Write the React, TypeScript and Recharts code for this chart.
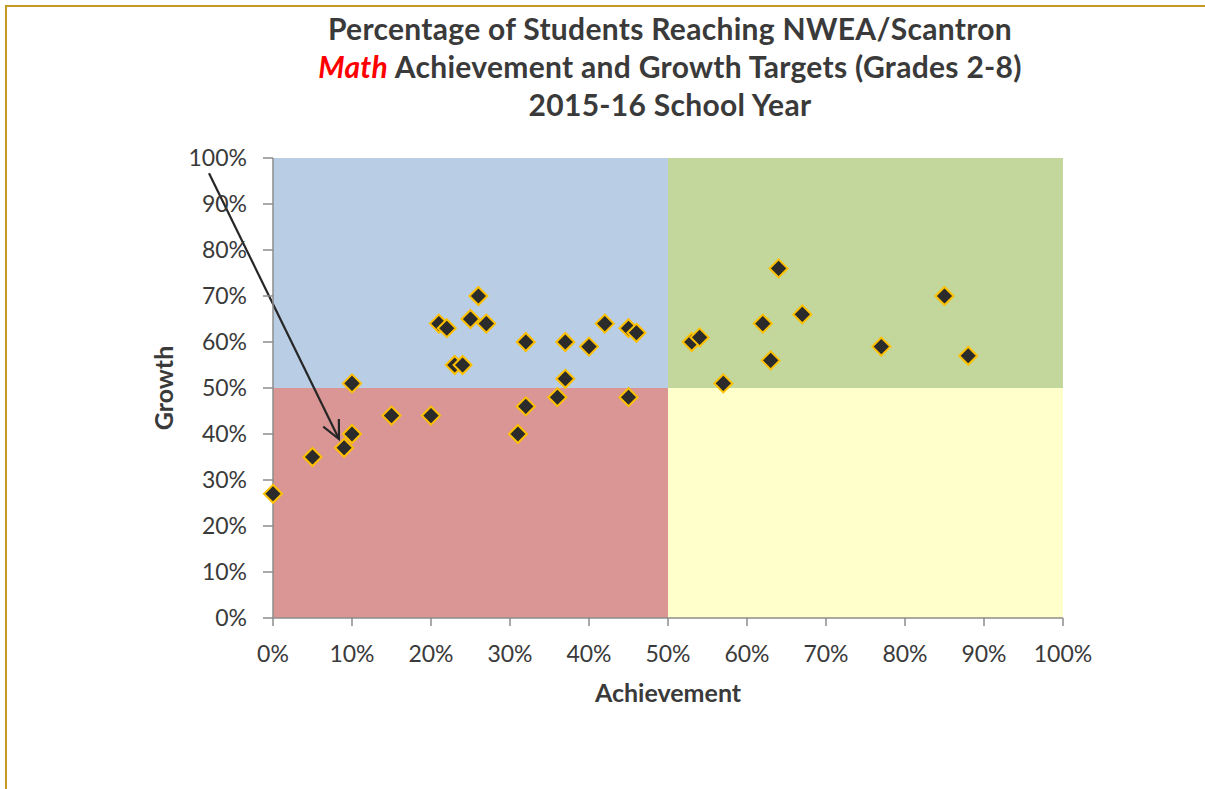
import React from 'react';
import { ScatterChart, Scatter, XAxis, YAxis, ReferenceArea, ReferenceLine } from 'recharts';

// one point per school: % reaching achievement target, % reaching growth target
const achievement = [0, 5, 9, 10, 10, 15, 20, 21, 22, 23, 24, 25, 26, 27, 31, 32, 32, 36, 37, 37, 40, 42, 45, 46, 45, 53, 54, 57, 62, 63, 64, 67, 77, 85, 88];
const growth = [27, 35, 37, 40, 51, 44, 44, 64, 63, 55, 55, 65, 70, 64, 40, 60, 46, 48, 60, 52, 59, 64, 63, 62, 48, 60, 61, 51, 64, 56, 76, 66, 59, 70, 57];

const ticks = [0, 10, 20, 30, 40, 50, 60, 70, 80, 90, 100];
const target = 50;

// hand drawn annotation arrow (data coords, start sits left of the plot)
const arrowFrom = { x: -8.1, y: 96.7 };
const arrowTo = { x: 8.35, y: 38.9 };

const points = achievement.map((a, i) => ({ x: a, y: growth[i] }));

const textColor = '#3a3a3a';
const axisColor = '#8c8c8c';

const Diamond = (props: any) => {
  const { cx, cy } = props;
  const r = 9;
  return (
    <path
      d={`M${cx},${cy - r} L${cx + r},${cy} L${cx},${cy + r} L${cx - r},${cy} Z`}
      fill="#2b2b2b"
      stroke="#FFC000"
      strokeWidth={2}
    />
  );
};

const Arrow = (props: any) => {
  const { x1, y1, x2, y2 } = props;
  const ang = Math.atan2(y2 - y1, x2 - x1);
  const len = 20;
  const spread = 0.45;
  const ax = x2 - len * Math.cos(ang - spread);
  const ay = y2 - len * Math.sin(ang - spread);
  const bx = x2 - len * Math.cos(ang + spread);
  const by = y2 - len * Math.sin(ang + spread);
  return (
    <g>
      <line x1={x1} y1={y1} x2={x2} y2={y2} stroke="#262626" strokeWidth={2.2} />
      <path d={`M${ax},${ay} L${x2},${y2} L${bx},${by}`} fill="none" stroke="#262626" strokeWidth={2.2} />
    </g>
  );
};

const fmt = (v: number) => `${v}%`;

export default function App() {
  return (
    <div style={{ position: 'absolute', left: 0, top: 0, width: 1205, height: 789, overflow: 'hidden', background: '#fff', fontFamily: 'Lato, sans-serif' }}>
      <div style={{ position: 'absolute', left: 5, top: 5, width: 1200, height: 784, borderTop: '2px solid #C49A22', borderLeft: '2px solid #C49A22' }} />

      <div style={{ position: 'absolute', left: 220, width: 900, top: 9, textAlign: 'center', fontSize: 30, lineHeight: '38px', fontWeight: 700, color: textColor, letterSpacing: 0.3 }}>
        <div>Percentage of Students Reaching NWEA/Scantron</div>
        <div><span style={{ color: '#ff0000', fontStyle: 'italic' }}>Math</span> Achievement and Growth Targets (Grades 2-8)</div>
        <div>2015-16 School Year</div>
      </div>

      <div style={{ position: 'absolute', left: 163, top: 388, transform: 'translate(-50%, -50%) rotate(-90deg)', fontSize: 25, fontWeight: 700, color: textColor }}>
        Growth
      </div>
      <div style={{ position: 'absolute', left: 668, top: 692, transform: 'translate(-50%, -50%)', fontSize: 25, fontWeight: 700, color: textColor }}>
        Achievement
      </div>

      <div style={{ position: 'absolute', left: 0, top: 0 }}>
        <ScatterChart width={1205} height={789} margin={{ top: 158, right: 142, bottom: 131, left: 213 }}>
          <ReferenceArea x1={0} x2={target} y1={target} y2={100} fill="#B9CDE5" fillOpacity={1} stroke="none" />
          <ReferenceArea x1={target} x2={100} y1={target} y2={100} fill="#C3D69B" fillOpacity={1} stroke="none" />
          <ReferenceArea x1={0} x2={target} y1={0} y2={target} fill="#D99694" fillOpacity={1} stroke="none" />
          <ReferenceArea x1={target} x2={100} y1={0} y2={target} fill="#FFFFCC" fillOpacity={1} stroke="none" />
          <XAxis
            type="number"
            dataKey="x"
            domain={[0, 100]}
            ticks={ticks}
            tickFormatter={fmt}
            height={40}
            tickSize={8}
            tickMargin={20}
            axisLine={{ stroke: axisColor, strokeWidth: 1.5 }}
            tickLine={{ stroke: axisColor, strokeWidth: 1.5 }}
            tick={{ fill: textColor, fontSize: 23, fontFamily: 'Lato, sans-serif' }}
            interval={0}
          />
          <YAxis
            type="number"
            dataKey="y"
            domain={[0, 100]}
            ticks={ticks}
            tickFormatter={fmt}
            width={60}
            tickSize={10}
            tickMargin={16}
            axisLine={{ stroke: axisColor, strokeWidth: 1.5 }}
            tickLine={{ stroke: axisColor, strokeWidth: 1.5 }}
            tick={{ fill: textColor, fontSize: 23, fontFamily: 'Lato, sans-serif' }}
            interval={0}
          />
          <Scatter data={points} shape={Diamond} isAnimationActive={false} />
          <ReferenceLine segment={[arrowFrom, arrowTo]} ifOverflow="visible" shape={Arrow} />
        </ScatterChart>
      </div>
    </div>
  );
}
